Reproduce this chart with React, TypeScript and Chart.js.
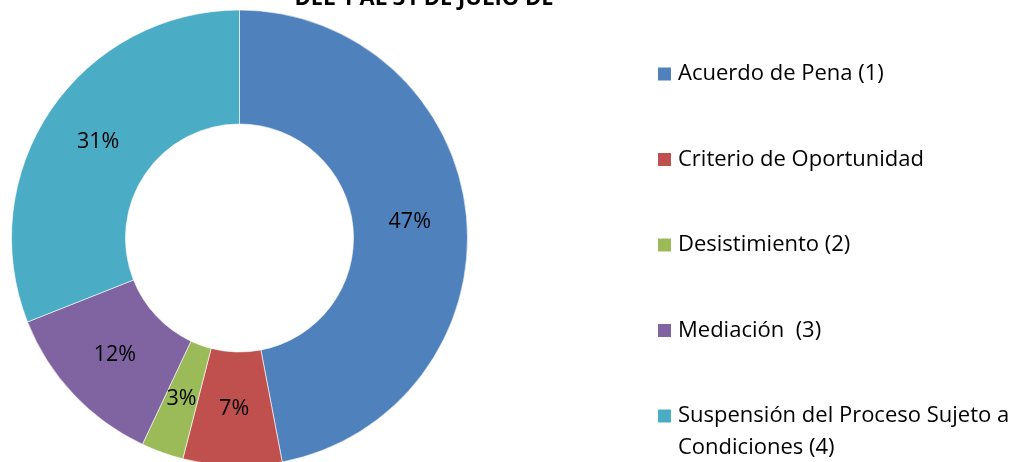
import React, { useEffect, useRef } from "react";
import { Chart, registerables } from "chart.js";

Chart.register(...registerables);

const categories: string[][] = [
  ["Acuerdo de Pena (1)"],
  ["Criterio de Oportunidad"],
  ["Desistimiento (2)"],
  ["Mediación  (3)"],
  ["Suspensión del Proceso Sujeto a", "Condiciones (4)"],
];
const shares: number[] = [47, 7, 3, 12, 31];
const pctLabels: string[] = ["47%", "7%", "3%", "12%", "31%"];
const colors: string[] = ["#4F81BD", "#C0504D", "#9BBB59", "#8064A2", "#4BACC6"];
const titleText = "DEL 1 AL 31 DE JULIO DE";

const FONT = "'Open Sans', sans-serif";

const labelPlugin = {
  id: "sliceLabels",
  afterDatasetsDraw(chart: any) {
    const ctx = chart.ctx;
    const meta = chart.getDatasetMeta(0);
    ctx.save();
    ctx.fillStyle = "#000";
    ctx.font = `21.5px ${FONT}`;
    ctx.textAlign = "center";
    ctx.textBaseline = "middle";
    meta.data.forEach((arc: any, i: number) => {
      const p = arc.getCenterPoint();
      ctx.fillText(pctLabels[i], p.x, p.y);
    });
    ctx.restore();
  },
};

const legendPlugin = {
  id: "sideLegend",
  afterDraw(chart: any) {
    const ctx = chart.ctx;
    ctx.save();
    ctx.font = `22px ${FONT}`;
    ctx.textBaseline = "middle";
    ctx.textAlign = "left";
    const x0 = 658;
    const y0 = 74;
    const step = 85.5;
    categories.forEach((lines, i) => {
      const y = y0 + i * step;
      ctx.fillStyle = colors[i];
      ctx.fillRect(x0, y - 6.5, 13, 13);
      ctx.fillStyle = "#000";
      lines.forEach((ln, j) => {
        ctx.fillText(ln, x0 + 20, y + j * 32);
      });
    });
    // title (clipped at top)
    ctx.font = `bold 22px ${FONT}`;
    ctx.textAlign = "center";
    ctx.textBaseline = "alphabetic";
    ctx.fillText(titleText, 424, 5);
    ctx.restore();
  },
};

export default function App() {
  const ref = useRef<HTMLCanvasElement | null>(null);
  useEffect(() => {
    document.body.style.margin = "0";
    const chart = new Chart(ref.current as HTMLCanvasElement, {
      type: "doughnut",
      data: {
        labels: categories.map((c) => c.join(" ")),
        datasets: [
          {
            data: shares,
            backgroundColor: colors,
            borderColor: "rgba(255,255,255,0.6)",
            borderWidth: 1,
          },
        ],
      },
      options: {
        responsive: false,
        animation: false,
        cutout: "50%",
        layout: { padding: { left: 11, top: 9, right: 550, bottom: 33 } },
        plugins: {
          legend: { display: false },
          tooltip: { enabled: false },
          title: { display: false },
        },
      },
      plugins: [labelPlugin, legendPlugin],
    });
    return () => chart.destroy();
  }, []);
  return (
    <div style={{ position: "fixed", left: 0, top: 0, width: 1018, height: 462, overflow: "hidden", background: "#fff" }}>
      <canvas ref={ref} width={1018} height={500} style={{ width: 1018, height: 500, display: "block" }} />
    </div>
  );
}
